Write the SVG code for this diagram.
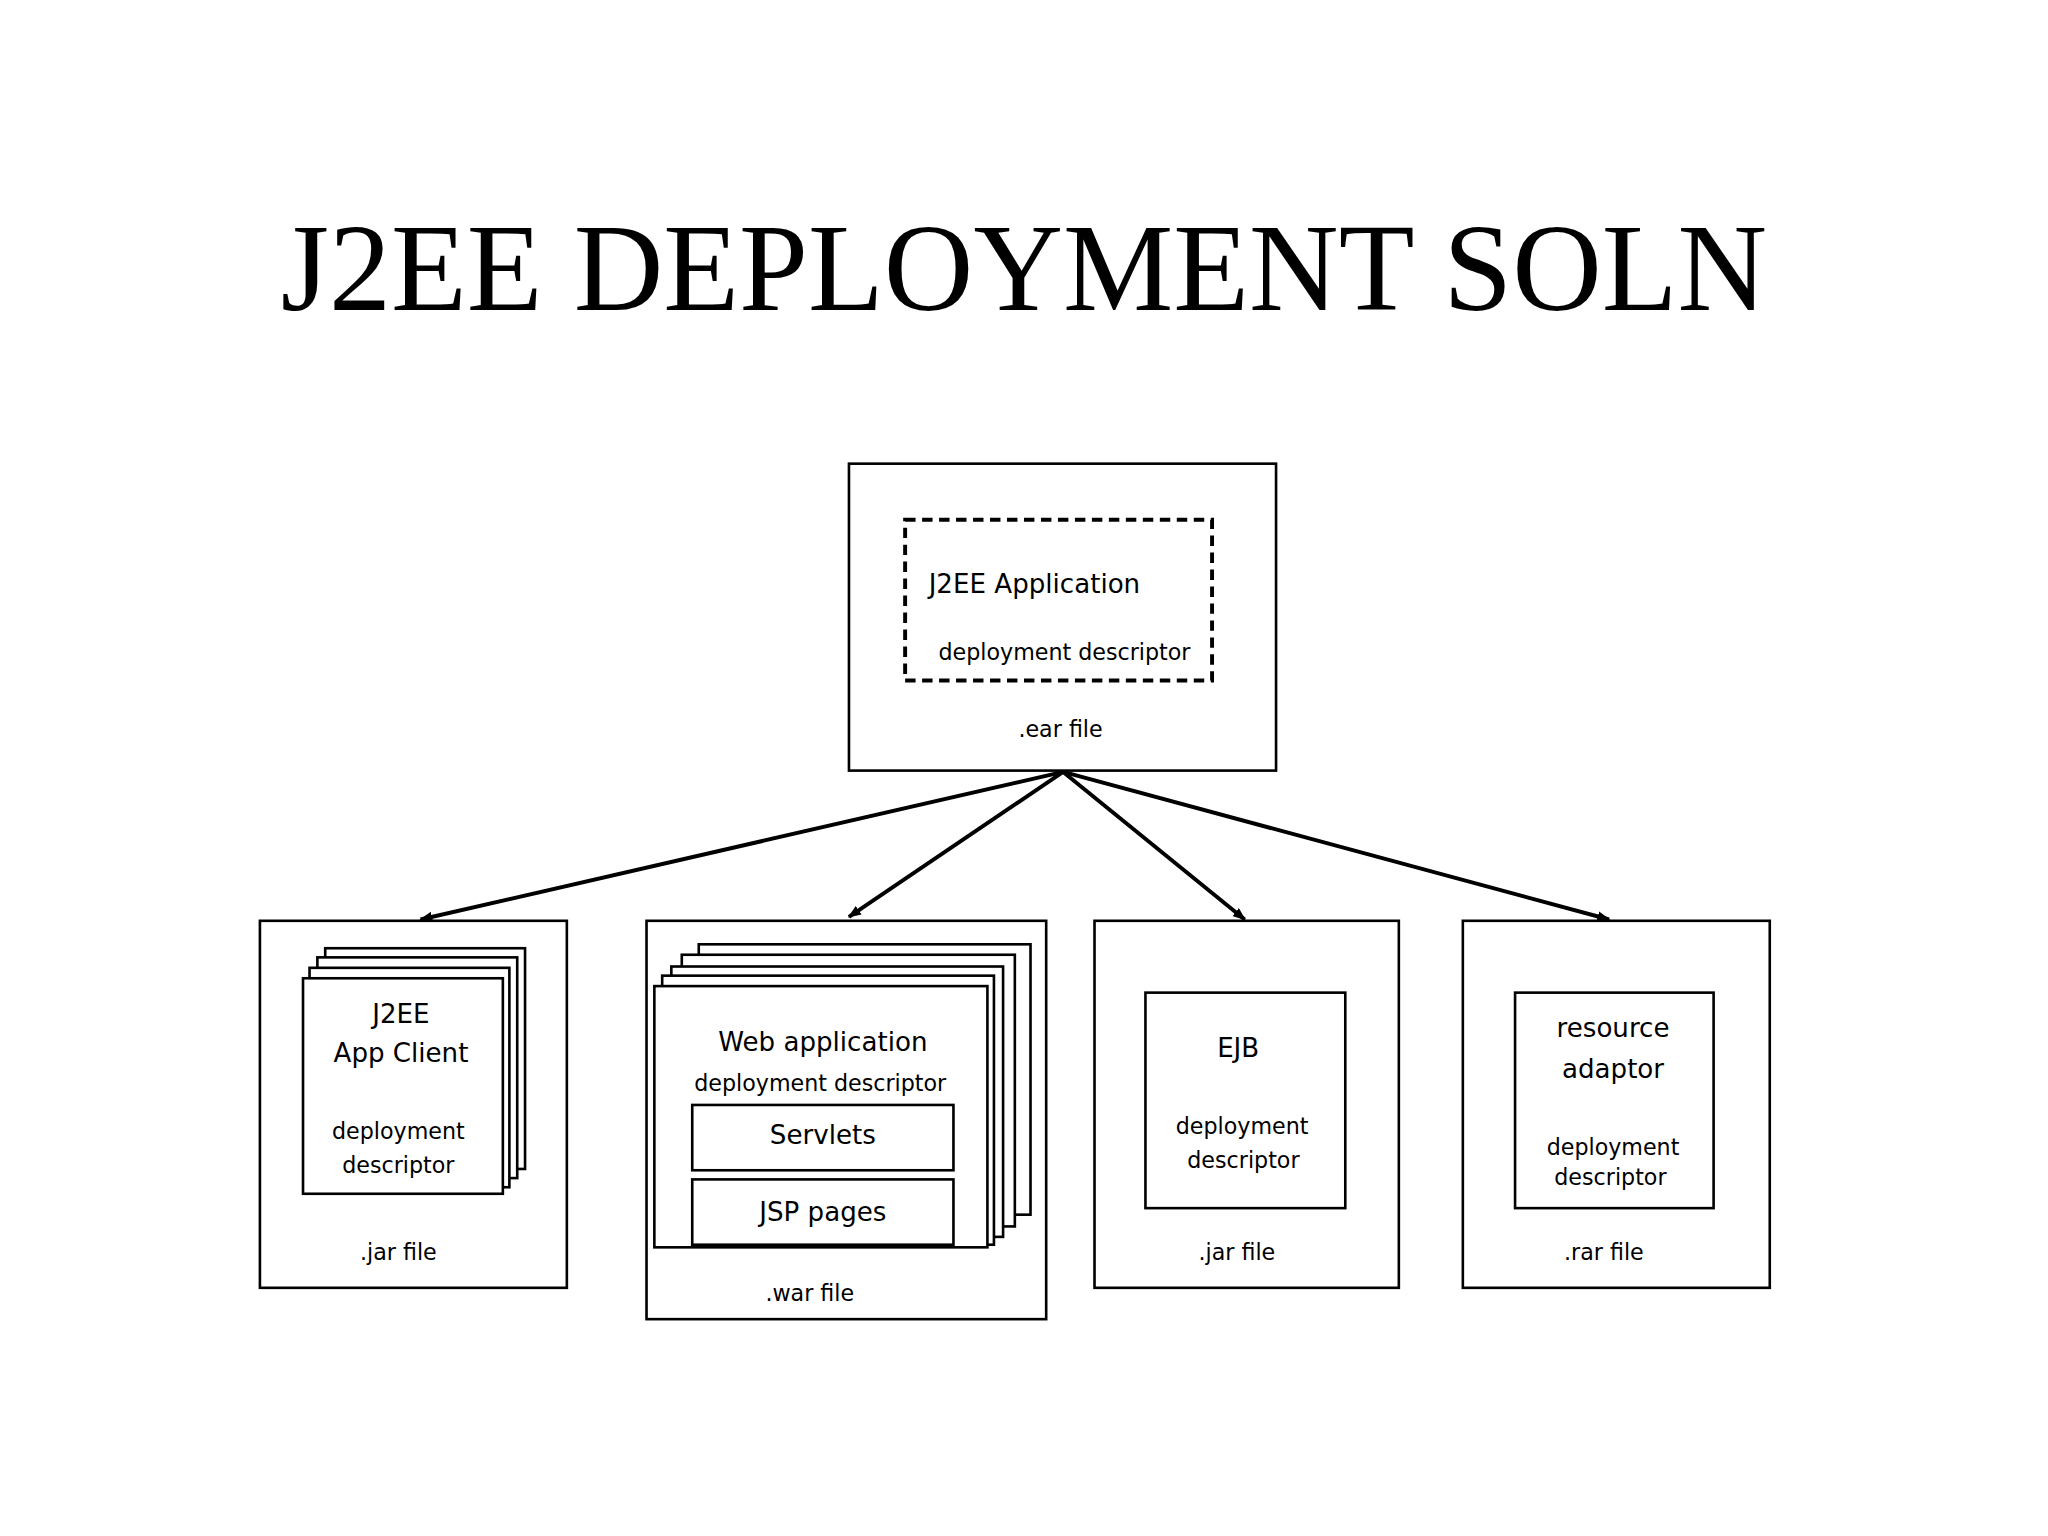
<svg xmlns="http://www.w3.org/2000/svg" width="2048" height="1536" viewBox="0 0 2048 1536">
<style>
.b{fill:#fff;stroke:#000;stroke-width:2}
.t{font-family:"DejaVu Sans",sans-serif;font-size:20px;text-anchor:middle;fill:#000}
.s{font-size:17px}
.c{stroke:#000;stroke-width:3;fill:none;marker-end:url(#a)}
</style>
<defs><marker id="a" markerWidth="10" markerHeight="8" refX="9" refY="4" orient="auto" markerUnits="userSpaceOnUse"><path d="M0,0L10,4L0,8z"/></marker></defs>
<rect width="2048" height="1536" fill="#fff"/>
<g transform="scale(1.3061)">
<text x="784" y="237" font-family="Liberation Serif,serif" font-size="95" text-anchor="middle">J2EE DEPLOYMENT SOLN</text>
<g id="ear"><rect class="b" x="650" y="355" width="327" height="235"/>
<rect x="693" y="398" width="235" height="123" fill="none" stroke="#000" stroke-width="3" stroke-dasharray="8,5"/>
<text class="t" x="792" y="454">J2EE Application</text>
<text class="t s" x="815" y="505">deployment descriptor</text>
<text class="t s" x="812" y="564">.ear file</text></g>
<g id="jar1"><rect class="b" x="199" y="705" width="235" height="281"/>
<rect class="b" x="249" y="726" width="153" height="169"/>
<rect class="b" x="243" y="733" width="153" height="169"/>
<rect class="b" x="237" y="741" width="153" height="168"/>
<rect class="b" x="232" y="749" width="153" height="165"/>
<text class="t" x="307" y="783">J2EE</text><text class="t" x="307" y="813">App Client</text>
<text class="t s" x="305" y="872">deployment</text><text class="t s" x="305" y="898">descriptor</text>
<text class="t s" x="305" y="965">.jar file</text></g>
<g id="war"><rect class="b" x="495" y="705" width="306" height="305"/>
<rect class="b" x="535" y="723" width="254" height="207"/>
<rect class="b" x="522" y="731" width="255" height="208"/>
<rect class="b" x="514" y="740" width="254" height="207"/>
<rect class="b" x="507" y="747" width="254" height="206"/>
<rect class="b" x="501" y="755" width="255" height="200"/>
<text class="t" x="630" y="805">Web application</text>
<text class="t s" x="628" y="835">deployment descriptor</text>
<rect class="b" x="530" y="846" width="200" height="50"/><text class="t" x="630" y="876">Servlets</text>
<rect class="b" x="530" y="903" width="200" height="50"/><text class="t" x="630" y="935">JSP pages</text>
<text class="t s" x="620" y="996">.war file</text></g>
<g id="ejb"><rect class="b" x="838" y="705" width="233" height="281"/>
<rect class="b" x="877" y="760" width="153" height="165"/>
<text class="t" x="948" y="809">EJB</text>
<text class="t s" x="951" y="868">deployment</text><text class="t s" x="952" y="894">descriptor</text>
<text class="t s" x="947" y="965">.jar file</text></g>
<g id="rar"><rect class="b" x="1120" y="705" width="235" height="281"/>
<rect class="b" x="1160" y="760" width="152" height="165"/>
<text class="t" x="1235" y="794">resource</text><text class="t" x="1235" y="825">adaptor</text>
<text class="t s" x="1235" y="884">deployment</text><text class="t s" x="1233" y="907">descriptor</text>
<text class="t s" x="1228" y="965">.rar file</text></g>
<g id="connectors">
<path class="c" d="M814,591L322,704"/>
<path class="c" d="M814,591L650,702"/>
<path class="c" d="M814,591L953,704"/>
<path class="c" d="M814,591L1232,704"/>
</g>
</g>
</svg>
